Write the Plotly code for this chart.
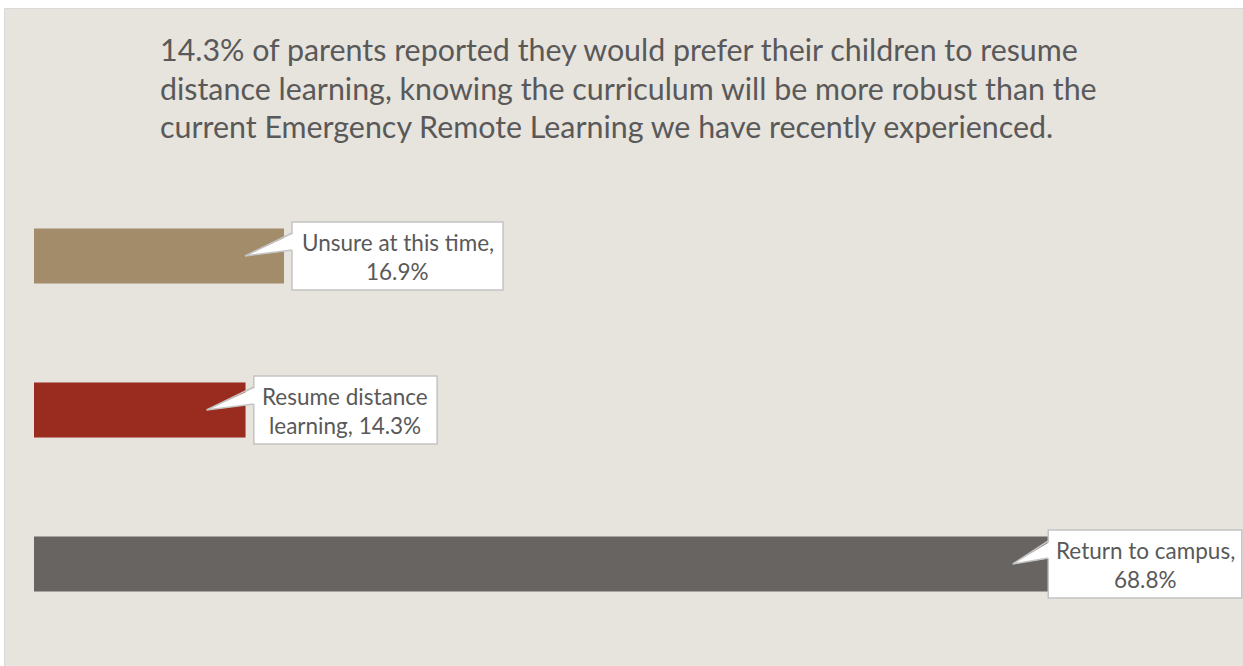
import textwrap
import plotly.graph_objects as go

# ---------------- data ----------------
categories = ["Return to campus", "Resume distance learning", "Unsure at this time"]
values = [68.8, 14.3, 16.9]
colors = ["#686462", "#9A2B1F", "#A38C6A"]
title_lines = [
    "14.3% of parents reported they would prefer their children to resume",
    "distance learning, knowing the curriculum will be more robust than the",
    "current Emergency Remote Learning we have recently experienced.",
]

# ---------------- layout constants ----------------
W, H = 1243, 666
ML, MR, MT, MB = 34, 0, 179, 25
PX_PER_PCT = 14.793
plot_w = W - ML - MR
plot_h = H - MT - MB
XMAX = plot_w / PX_PER_PCT

FONT = "Lato"
TXT = "#595959"
BORDER = "#C4C4C4"
BG = "#E7E3DD"

# callout box pixel offsets from the bar end (left, right)
box_offsets = [(-3.5, 190), (8.3, 191.6), (8, 219)]


def px2paper_x(px):
    return (px - ML) / plot_w


def px2paper_y(py):
    return (H - MB - py) / plot_h


fig = go.Figure()
fig.add_trace(go.Bar(
    x=values, y=categories, orientation="h",
    marker=dict(color=colors, line=dict(width=0)),
    width=55 / 154, hoverinfo="skip", showlegend=False,
))

shapes = []
# chart area background
shapes.append(dict(
    type="rect", xref="paper", yref="paper", layer="below",
    x0=px2paper_x(4.5), x1=px2paper_x(1300), y0=px2paper_y(700), y1=px2paper_y(8.5),
    fillcolor=BG, line=dict(color="#D9D9D9", width=1),
))

annotations = []
for i, (cat, v) in enumerate(zip(categories, values)):
    bx0, bx1 = box_offsets[i]
    common = dict(xref="x", yref="y", xsizemode="pixel", ysizemode="pixel",
                  xanchor=v, yanchor=i)
    shapes.append(dict(type="rect", x0=bx0, x1=bx1, y0=-34, y1=34,
                       fillcolor="white", line=dict(color=BORDER, width=1.5), **common))
    shapes.append(dict(type="path",
                       path=f"M{bx0 + 3},23 L-39,0 L{bx0 + 3},6 Z",
                       fillcolor="white", line=dict(width=0), **common))
    shapes.append(dict(type="path",
                       path=f"M{bx0},23 L-39,0 L{bx0},6",
                       line=dict(color=BORDER, width=1.5), **common))
    lines = textwrap.wrap(f"{cat}, {v:.1f}%", width=20)
    cx = (bx0 + bx1) / 2
    for j, (ln, ys) in enumerate(zip(lines, [14, -15])):
        annotations.append(dict(
            xref="x", yref="y", x=v, y=i, xshift=cx, yshift=ys,
            xanchor="center", yanchor="middle", showarrow=False,
            text=ln, font=dict(family=FONT, size=22.5, color=TXT),
        ))

for ln, py in zip(title_lines, [48.8, 87.5, 126.2]):
    annotations.append(dict(
        xref="paper", yref="paper", x=px2paper_x(158), y=px2paper_y(py),
        xanchor="left", yanchor="middle", showarrow=False,
        text=ln, font=dict(family=FONT, size=30.4, color=TXT),
    ))

fig.update_layout(
    width=W, height=H,
    margin=dict(l=ML, r=MR, t=MT, b=MB),
    paper_bgcolor="white", plot_bgcolor="rgba(0,0,0,0)",
    xaxis=dict(range=[0, XMAX], visible=False, fixedrange=True),
    yaxis=dict(type="category", categoryorder="array", categoryarray=categories,
               range=[-0.5, 2.5], visible=False, fixedrange=True),
    shapes=shapes, annotations=annotations,
    showlegend=False,
)

fig.write_html("out.html", config={"displayModeBar": False},
               post_script="document.body.style.margin='0';document.body.style.overflow='hidden';")
